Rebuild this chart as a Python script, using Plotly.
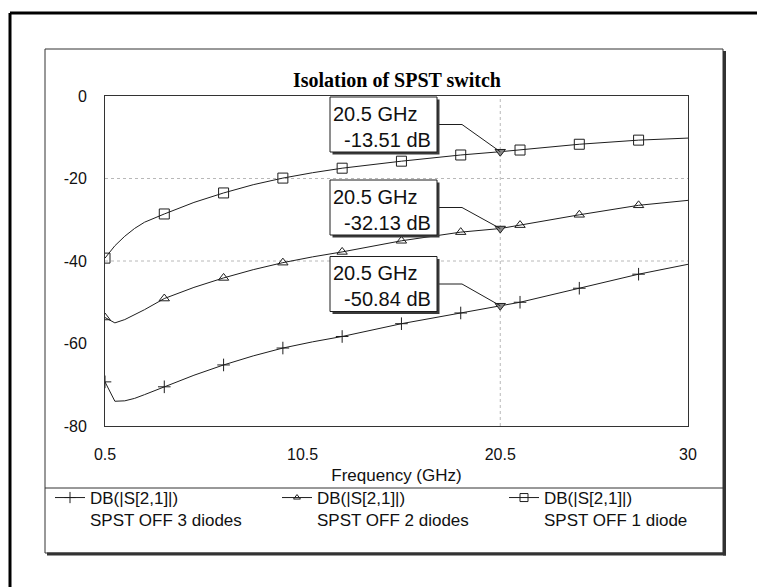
import plotly.graph_objects as go

# ---------------- data ----------------
FREQ_3 = [0.5, 1.0, 1.5, 2.0, 2.5, 3.5, 5.0, 6.5, 8.0, 9.5, 11.0, 12.5, 15.5, 18.5, 20.5, 21.5, 24.5, 27.5, 30.0]
DB_3 = [-69.3, -74.0, -73.9, -73.3, -72.4, -70.5, -67.7, -65.2, -63.0, -61.1, -59.6, -58.3, -55.2, -52.6, -50.84, -50.0, -46.6, -43.2, -40.8]

FREQ_2 = [0.5, 1.0, 1.5, 2.0, 2.5, 3.5, 5.0, 6.5, 8.0, 9.5, 11.0, 12.5, 15.5, 18.5, 20.5, 21.5, 24.5, 27.5, 30.0]
DB_2 = [-53.7, -55.0, -54.2, -53.0, -51.8, -49.1, -46.4, -44.1, -42.1, -40.4, -39.0, -37.8, -35.1, -33.0, -32.13, -31.3, -28.8, -26.5, -25.3]

FREQ_1 = [0.5, 1.0, 1.5, 2.0, 2.5, 3.5, 5.0, 6.5, 8.0, 9.5, 11.0, 12.5, 15.5, 18.5, 20.5, 21.5, 24.5, 27.5, 30.0]
DB_1 = [-39.3, -36.3, -34.0, -32.1, -30.6, -28.6, -25.8, -23.5, -21.5, -19.9, -18.6, -17.5, -15.8, -14.3, -13.51, -13.1, -11.7, -10.7, -10.2]

MARK_F = [0.5, 3.5, 6.5, 9.5, 12.5, 15.5, 18.5, 21.5, 24.5, 27.5]

READ_F = 20.5
READ_DB = [-13.51, -32.13, -50.84]

NAMES = ["DB(|S[2,1]|)<br>SPST OFF 3 diodes",
         "DB(|S[2,1]|)<br>SPST OFF 2 diodes",
         "DB(|S[2,1]|)<br>SPST OFF 1 diode"]

X_TICKS = [0.5, 10.5, 20.5, 30]
X_TICKTEXT = ["0.5", "10.5", "20.5", "30"]
Y_TICKS = [0, -20, -40, -60, -80]
Y_TICKTEXT = ["0", "-20", "-40", "-60", "-80"]

# ---------------- layout constants ----------------
W, H = 757, 587
L, T, R, B = 105, 96, 688, 426
PW, PH = R - L, B - T
XR = [0.5, 30]
YR = [-80, 0]


def PX(x):
    return (x - L) / PW


def PY(y):
    return (B - y) / PH


def DX(px):  # pixel -> data x (for annotation boxes)
    return XR[0] + (px - L) / PW * (XR[1] - XR[0])


def DY(py):
    return YR[1] - (py - T) / PH * (YR[1] - YR[0])


INK = "#1e1e1e"
SANS = "Liberation Sans, Arial, sans-serif"
SERIF = "Liberation Serif, Times New Roman, serif"

fig = go.Figure()

series = [
    (FREQ_3, DB_3, "cross-thin-open", 9),
    (FREQ_2, DB_2, "triangle-up-open", 9),
    (FREQ_1, DB_1, "square-open", 10),
]
legend_sizes = [8, 6, 8]

for (fx, fy, sym, ms), name, lsz in zip(series, NAMES, legend_sizes):
    fig.add_trace(go.Scatter(x=fx, y=fy, mode="lines", line=dict(color=INK, width=1),
                             showlegend=False, hoverinfo="skip"))
    mx = [f for f in fx if f in MARK_F]
    my = [v for f, v in zip(fx, fy) if f in MARK_F]
    fig.add_trace(go.Scatter(x=mx, y=my, mode="markers",
                             marker=dict(symbol=sym, size=ms, color=INK, line=dict(color=INK, width=1)),
                             showlegend=False, hoverinfo="skip"))
    fig.add_trace(go.Scatter(x=[None], y=[None], mode="lines+markers", name=name,
                             line=dict(color=INK, width=1),
                             marker=dict(symbol=sym, size=lsz, color=INK, line=dict(color=INK, width=1))))

shapes = []
# grid lines (dotted)
for gy in [-20, -40]:
    shapes.append(dict(type="line", xref="x", yref="y", x0=XR[0], x1=XR[1], y0=gy, y1=gy,
                       line=dict(color="#b8b8b8", width=1, dash="dot"), layer="below"))
shapes.append(dict(type="line", xref="x", yref="y", x0=READ_F, x1=READ_F, y0=YR[0], y1=YR[1],
                   line=dict(color="#b8b8b8", width=1, dash="dot"), layer="below"))

# outer frame
shapes.append(dict(type="line", xref="paper", yref="paper", x0=PX(10), x1=PX(757), y0=PY(13), y1=PY(13),
                   line=dict(color="#000", width=3), layer="below"))
shapes.append(dict(type="line", xref="paper", yref="paper", x0=PX(10), x1=PX(10), y0=PY(13), y1=PY(587),
                   line=dict(color="#000", width=3), layer="below"))
# inner chart frame with shadow
shapes.append(dict(type="line", xref="paper", yref="paper", x0=PX(724.5), x1=PX(724.5), y0=PY(51), y1=PY(555.5),
                   line=dict(color="#333", width=3), layer="below"))
shapes.append(dict(type="line", xref="paper", yref="paper", x0=PX(47), x1=PX(726), y0=PY(554), y1=PY(554),
                   line=dict(color="#333", width=3), layer="below"))
shapes.append(dict(type="rect", xref="paper", yref="paper", x0=PX(45), x1=PX(723), y0=PY(49), y1=PY(553),
                   line=dict(color="#333", width=1), layer="below"))
# legend separator
shapes.append(dict(type="line", xref="paper", yref="paper", x0=PX(45), x1=PX(723), y0=PY(488), y1=PY(488),
                   line=dict(color="#333", width=1), layer="below"))

# marker read-out boxes
BOX_X0, BOX_X1 = DX(330), DX(437)
KINK_X = DX(462)
BOX_CY = [DY(124.5), DY(207.5), DY(284)]
HALF = 27.5 / PH * (YR[1] - YR[0])
OFFX = 2.5 / PW * (XR[1] - XR[0])
OFFY = 2.5 / PH * (YR[1] - YR[0])
TXT_DY = 2 / PH * (YR[1] - YR[0])

annotations = []
for cy, v in zip(BOX_CY, READ_DB):
    shapes.append(dict(type="path", xref="x", yref="y",
                       path=f"M {BOX_X1},{cy} L {KINK_X},{cy} L {READ_F},{v}",
                       line=dict(color=INK, width=1), layer="above"))
    shapes.append(dict(type="rect", xref="x", yref="y", x0=BOX_X0 + OFFX, x1=BOX_X1 + OFFX,
                       y0=cy - HALF - OFFY, y1=cy + HALF - OFFY,
                       line=dict(width=0), fillcolor="#3a3a3a", layer="above"))
    shapes.append(dict(type="rect", xref="x", yref="y", x0=BOX_X0, x1=BOX_X1,
                       y0=cy - HALF, y1=cy + HALF,
                       line=dict(color=INK, width=1), fillcolor="white", layer="above"))
    annotations.append(dict(xref="x", yref="y", x=BOX_X0 + 1 / PW * (XR[1] - XR[0]), y=cy - TXT_DY,
                            xanchor="left", yanchor="middle", align="left", showarrow=False,
                            text=f"{READ_F} GHz<br>\u00a0\u00a0{v:.2f} dB",
                            font=dict(family=SANS, size=20, color="#111")))

fig.add_trace(go.Scatter(x=[READ_F] * len(READ_DB), y=READ_DB, mode="markers",
                         marker=dict(symbol="triangle-down", size=9, color="#888", line=dict(color=INK, width=1)),
                         showlegend=False, hoverinfo="skip"))

fig.update_layout(
    width=W, height=H, autosize=False,
    margin=dict(l=L, r=W - R, t=T, b=H - B, pad=0),
    paper_bgcolor="white", plot_bgcolor="rgba(0,0,0,0)",
    title=dict(text="<b>Isolation of SPST switch</b>", x=397 / W, xanchor="center",
               y=1 - 80 / H, yanchor="middle", yref="container", xref="container",
               font=dict(family=SERIF, size=20, color="#000")),
    xaxis=dict(range=XR, tickvals=X_TICKS, ticktext=X_TICKTEXT, showgrid=False, zeroline=False,
               showline=True, mirror=True, linecolor="#333", linewidth=1, ticks="",
               tickfont=dict(family=SANS, size=16, color="#111"), ticklabelstandoff=14,
               title=dict(text="Frequency (GHz)", font=dict(family=SANS, size=17, color="#111"), standoff=6)),
    yaxis=dict(range=YR, tickvals=Y_TICKS, ticktext=Y_TICKTEXT, showgrid=False, zeroline=False,
               showline=True, mirror=True, linecolor="#333", linewidth=1, ticks="",
               tickfont=dict(family=SANS, size=16, color="#111"), ticklabelstandoff=14),
    legend=dict(orientation="h", x=PX(50), xanchor="left", y=PY(480), yanchor="top",
                valign="top", entrywidth=182, entrywidthmode="pixels", itemsizing="trace",
                font=dict(family=SANS, size=17, color="#111"), bgcolor="rgba(0,0,0,0)",
                tracegroupgap=0, itemwidth=30),
    shapes=shapes,
    annotations=annotations,
    showlegend=True,
)

fig.write_html("out.html", config={"displayModeBar": False},
               post_script="document.body.style.margin='0';document.body.style.overflow='hidden';")
